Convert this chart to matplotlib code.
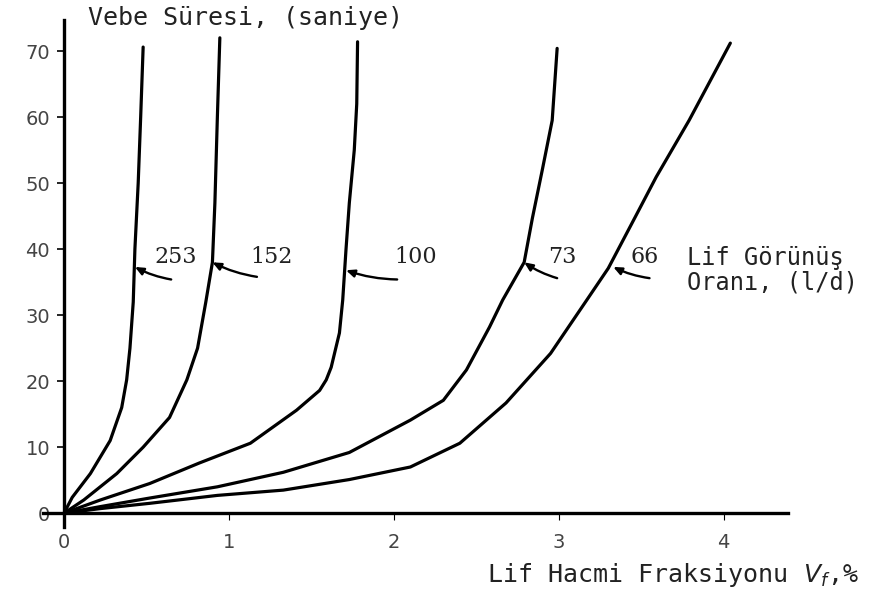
import numpy as np
import matplotlib.pyplot as plt

# Vebe suresi egrileri, her lif gorunus orani icin (Vf %, saniye)
vf_253 = [0, 0.05, 0.16, 0.28, 0.35, 0.38, 0.40, 0.42, 0.43, 0.45, 0.465, 0.48]
vb_253 = [0, 2.4, 6, 11, 16, 20.2, 25, 32, 40, 50, 60, 70.6]

vf_152 = [0, 0.12, 0.32, 0.48, 0.64, 0.745, 0.81, 0.86, 0.90, 0.915, 0.93, 0.945]
vb_152 = [0, 2, 6, 10, 14.5, 20.2, 25, 32, 38, 47, 60, 72]

vf_100 = [0, 0.22, 0.52, 0.82, 1.13, 1.41, 1.55, 1.59, 1.62, 1.67, 1.69, 1.71, 1.73, 1.76, 1.775, 1.78]
vb_100 = [0, 2, 4.5, 7.6, 10.6, 15.6, 18.6, 20.2, 22.1, 27.3, 32.3, 40, 47, 55, 62, 71.4]

vf_73 = [0, 0.22, 0.52, 0.93, 1.33, 1.73, 2.10, 2.30, 2.44, 2.58, 2.66, 2.79, 2.84, 2.90, 2.96, 2.99]
vb_73 = [0, 1, 2.3, 4, 6.2, 9.2, 14.1, 17.1, 21.7, 28.2, 32.3, 38, 44.7, 52, 59.5, 70.4]

vf_66 = [0, 0.22, 0.52, 0.93, 1.33, 1.73, 2.10, 2.40, 2.68, 2.95, 3.17, 3.30, 3.46, 3.59, 3.79, 4.04]
vb_66 = [0, 0.7, 1.5, 2.7, 3.5, 5.1, 7.0, 10.6, 16.7, 24.2, 32.3, 37.1, 44.7, 50.9, 59.5, 71.2]

oranlar = ['253', '152', '100', '73', '66']
# ok ucu (egri uzerinde), ok kuyrugu ve etiket konumu
ok_uc = [(0.43, 37.3), (0.90, 38.0), (1.71, 36.8), (2.79, 38.0), (3.33, 37.3)]
ok_kuyruk = [(0.65, 35.4), (1.17, 35.8), (2.02, 35.4), (2.99, 35.6), (3.55, 35.6)]
etiket_xy = [(0.68, 38.8), (1.26, 38.8), (2.13, 38.8), (3.02, 38.8), (3.52, 38.8)]

yticks = [0, 10, 20, 30, 40, 50, 60, 70]
xticks = [0, 1, 2, 3, 4]

fig = plt.figure(figsize=(8.71, 6.06), dpi=100)
ax = fig.add_axes([0.0494, 0.130, 0.855, 0.837])

for x, y in [(vf_253, vb_253), (vf_152, vb_152), (vf_100, vb_100), (vf_73, vb_73), (vf_66, vb_66)]:
    ax.plot(x, y, color='black', lw=2.3, solid_capstyle='round', solid_joinstyle='round')

for lab, uc, kuyruk, pos in zip(oranlar, ok_uc, ok_kuyruk, etiket_xy):
    ax.annotate('', xy=uc, xytext=kuyruk,
                arrowprops=dict(arrowstyle='-|>,head_length=0.5,head_width=0.22',
                                color='black', lw=1.7,
                                connectionstyle='arc3,rad=-0.08',
                                shrinkA=0, shrinkB=0))
    ax.text(pos[0], pos[1], lab, ha='center', va='center',
            family='DejaVu Serif', fontsize=16, color='#222')

ax.set_xlim(-0.127, 4.388)
ax.set_ylim(-2.12, 74.7)

for s in ['top', 'right']:
    ax.spines[s].set_visible(False)
ax.spines['left'].set_position(('data', 0))
ax.spines['bottom'].set_position(('data', 0))
ax.spines['left'].set_linewidth(2.4)
ax.spines['bottom'].set_linewidth(2.4)

ax.set_yticks(yticks)
ax.set_xticks(xticks)
ax.tick_params(axis='y', direction='out', length=5, width=1.2, pad=5,
               labelsize=14, labelcolor='#444')
ax.tick_params(axis='x', direction='out', length=5, width=0.8, pad=9,
               labelsize=14, labelcolor='#444')
for t in ax.get_xticklabels() + ax.get_yticklabels():
    t.set_family('DejaVu Sans')

mono = 'DejaVu Sans Mono'
fig.text(0.101, 0.971, 'Vebe Süresi, (saniye)', family=mono, fontsize=18,
         ha='left', va='center', color='#222')
fig.text(0.789, 0.554, 'Lif Görünüş\nOranı, (l/d)', family=mono, fontsize=17,
         ha='left', va='center', linespacing=1.05, color='#222')
fig.text(0.559, 0.051, 'Lif Hacmi Fraksiyonu $V_f$,%', family=mono, fontsize=18,
         ha='left', va='center', color='#222')

fig.savefig('out.png', dpi=100)
